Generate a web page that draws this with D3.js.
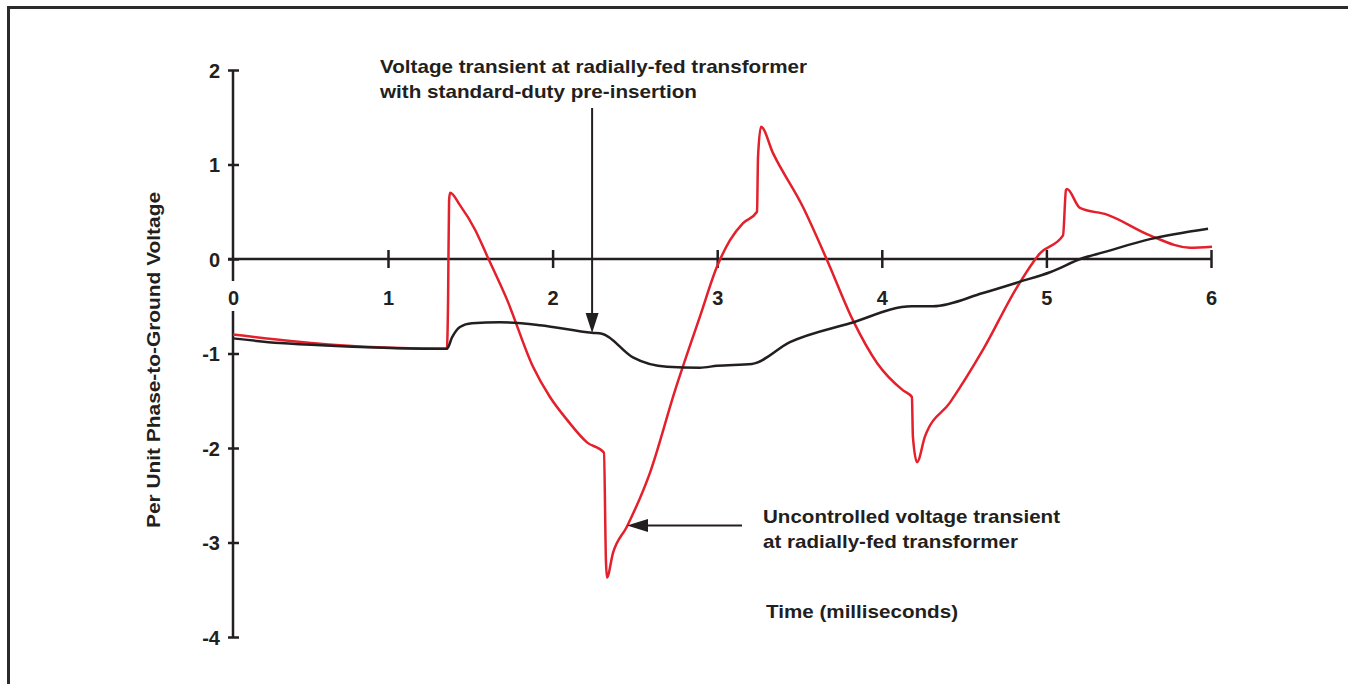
<!DOCTYPE html>
<html>
<head>
<meta charset="utf-8">
<script src="https://cdn.jsdelivr.net/npm/d3@7/dist/d3.min.js"></script>
<style>
  html, body { margin: 0; padding: 0; background: #fff; }
  svg { display: block; }
  text { font-family: "Liberation Sans", Arial, sans-serif; font-weight: bold; fill: #231f20; }
</style>
</head>
<body>
<svg id="chart" width="1348" height="684"></svg>
<script>
// ---- data ----
const xTicks = [0, 1, 2, 3, 4, 5, 6];
const yTicks = [2, 1, 0, -1, -2, -3, -4];

// Uncontrolled voltage transient (red): time (ms), per-unit voltage
const redTime = [0, 0.665, 1.358, 1.365, 1.371, 1.377, 1.437, 1.529, 1.608, 1.723, 1.881, 1.984, 2.087, 2.209, 2.312,
  2.324, 2.330, 2.367, 2.452, 2.592, 2.744, 2.895, 2.999, 3.078, 3.157, 3.242, 3.248, 3.266, 3.339, 3.521, 3.667,
  3.825, 3.971, 4.129, 4.183, 4.189, 4.214, 4.262, 4.414, 4.615, 4.821, 4.961, 5.101, 5.119, 5.125, 5.204, 5.368,
  5.629, 5.872, 6.006];
const redVolt = [-0.80, -0.91, -0.95, -0.43, 0.62, 0.70, 0.57, 0.31, 0.01, -0.43, -1.14, -1.46, -1.70, -1.94, -2.05,
  -3.19, -3.37, -3.11, -2.83, -2.26, -1.39, -0.61, -0.08, 0.20, 0.38, 0.50, 1.08, 1.40, 1.12, 0.55, -0.01,
  -0.65, -1.10, -1.39, -1.46, -1.88, -2.15, -1.88, -1.52, -0.96, -0.30, 0.06, 0.25, 0.73, 0.74, 0.54, 0.47,
  0.25, 0.12, 0.13];

// Voltage transient with standard-duty pre-insertion (black)
const blackTime = [0, 0.303, 0.665, 1.358, 1.389, 1.437, 1.510, 1.680, 1.923, 2.239, 2.300, 2.488, 2.695, 2.895,
  2.999, 3.211, 3.442, 3.807, 4.183, 4.311, 4.615, 4.840, 5.022, 5.222, 5.344, 5.629, 5.982];
const blackVolt = [-0.84, -0.89, -0.92, -0.95, -0.83, -0.72, -0.68, -0.67, -0.70, -0.78, -0.79, -1.04, -1.14, -1.15,
  -1.13, -1.11, -0.88, -0.68, -0.50, -0.50, -0.36, -0.24, -0.14, 0.01, 0.07, 0.21, 0.32];

const annotTop = ["Voltage transient at radially-fed transformer", "with standard-duty pre-insertion"];
const annotBottom = ["Uncontrolled voltage transient", "at radially-fed transformer"];
const xTitle = "Time (milliseconds)";
const yTitle = "Per Unit Phase-to-Ground Voltage";

// ---- layout ----
const svg = d3.select("#chart");
const ink = "#231f20", red = "#e3202b";
const fmt = d => String(d); // plain hyphen-minus like the original

const x = d3.scaleLinear().domain([0, 1, 6]).range([233, 388, 1211]);
const y = d3.scaleLinear().domain([2, -4]).range([70, 637]);

// frame
svg.append("line").attr("x1", 8).attr("x2", 1348).attr("y1", 7.5).attr("y2", 7.5)
  .attr("stroke", "#2b2b2b").attr("stroke-width", 3);
svg.append("line").attr("x1", 8.5).attr("x2", 8.5).attr("y1", 6).attr("y2", 684)
  .attr("stroke", "#2b2b2b").attr("stroke-width", 3);

// y axis
const yAxis = svg.append("g").attr("transform", `translate(${x(0)},0)`)
  .call(d3.axisLeft(y).tickValues(yTicks).tickSize(0).tickPadding(13).tickFormat(fmt));
yAxis.select(".domain").remove();
yAxis.append("line").attr("x1", 0).attr("x2", 0).attr("y1", y(2)).attr("y2", y(-4))
  .attr("stroke", ink).attr("stroke-width", 2.5);
yAxis.selectAll(".tick").append("line").attr("x1", -5).attr("x2", 6)
  .attr("stroke", ink).attr("stroke-width", 2.5);
yAxis.selectAll(".tick text").style("font-size", "20px").attr("fill", ink).attr("dy", "0.36em");

// x axis
const xAxis = svg.append("g").attr("transform", `translate(0,${y(0)})`)
  .call(d3.axisBottom(x).tickValues(xTicks).tickSize(0).tickPadding(0).tickFormat(fmt));
xAxis.select(".domain").remove();
xAxis.append("line").attr("x1", x(0) - 5).attr("x2", x(6)).attr("y1", 0).attr("y2", 0)
  .attr("stroke", ink).attr("stroke-width", 2.5);
xAxis.selectAll(".tick").filter(d => d !== 0).append("line").attr("y1", -9).attr("y2", 9)
  .attr("stroke", ink).attr("stroke-width", 2.5);
xAxis.selectAll(".tick").filter(d => d === 0).insert("rect", "text")
  .attr("x", -9).attr("y", 22).attr("width", 18).attr("height", 30).attr("fill", "#fff");
xAxis.selectAll(".tick text").style("font-size", "20px").attr("fill", ink)
  .attr("y", 46).attr("dy", 0);

// lines
const line = d3.line().x(d => x(d[0])).y(d => y(d[1])).curve(d3.curveMonotoneX);
const redData = redTime.map((t, i) => [t, redVolt[i]]);
const blackData = blackTime.map((t, i) => [t, blackVolt[i]]);

svg.append("path").datum(redData).attr("d", line).attr("fill", "none")
  .attr("stroke", red).attr("stroke-width", 2.5).attr("stroke-linejoin", "round");
svg.append("path").datum(blackData).attr("d", line).attr("fill", "none")
  .attr("stroke", ink).attr("stroke-width", 2.5).attr("stroke-linejoin", "round");

// annotation arrows
const topArrowX = x(2.24);
svg.append("line").attr("x1", topArrowX).attr("x2", topArrowX).attr("y1", 108).attr("y2", 314)
  .attr("stroke", ink).attr("stroke-width", 2);
svg.append("path").attr("d", `M${topArrowX - 6.5},313L${topArrowX},333L${topArrowX + 6.5},313Z`).attr("fill", ink);

const botArrowY = 525.5;
svg.append("line").attr("x1", 742).attr("x2", 647).attr("y1", botArrowY).attr("y2", botArrowY)
  .attr("stroke", ink).attr("stroke-width", 2);
svg.append("path").attr("d", `M648,${botArrowY - 6.5}L627,${botArrowY}L648,${botArrowY + 6.5}Z`).attr("fill", ink);

// annotation texts (widths fitted to the original lettering)
const topWidths = [427, 317];
const botWidths = [297, 255];
annotTop.forEach((s, i) => svg.append("text").attr("x", 380).attr("y", 73 + i * 25)
  .style("font-size", "18.5px").attr("textLength", topWidths[i]).attr("lengthAdjust", "spacingAndGlyphs").text(s));
annotBottom.forEach((s, i) => svg.append("text").attr("x", 763).attr("y", 523 + i * 25)
  .style("font-size", "18.5px").attr("textLength", botWidths[i]).attr("lengthAdjust", "spacingAndGlyphs").text(s));

svg.append("text").attr("x", 766).attr("y", 618).style("font-size", "18.5px")
  .attr("textLength", 192).attr("lengthAdjust", "spacingAndGlyphs").text(xTitle);

svg.append("text").attr("transform", "translate(160,360) rotate(-90)").attr("text-anchor", "middle")
  .style("font-size", "18px").attr("textLength", 336).attr("lengthAdjust", "spacingAndGlyphs").text(yTitle);
</script>
</body>
</html>
